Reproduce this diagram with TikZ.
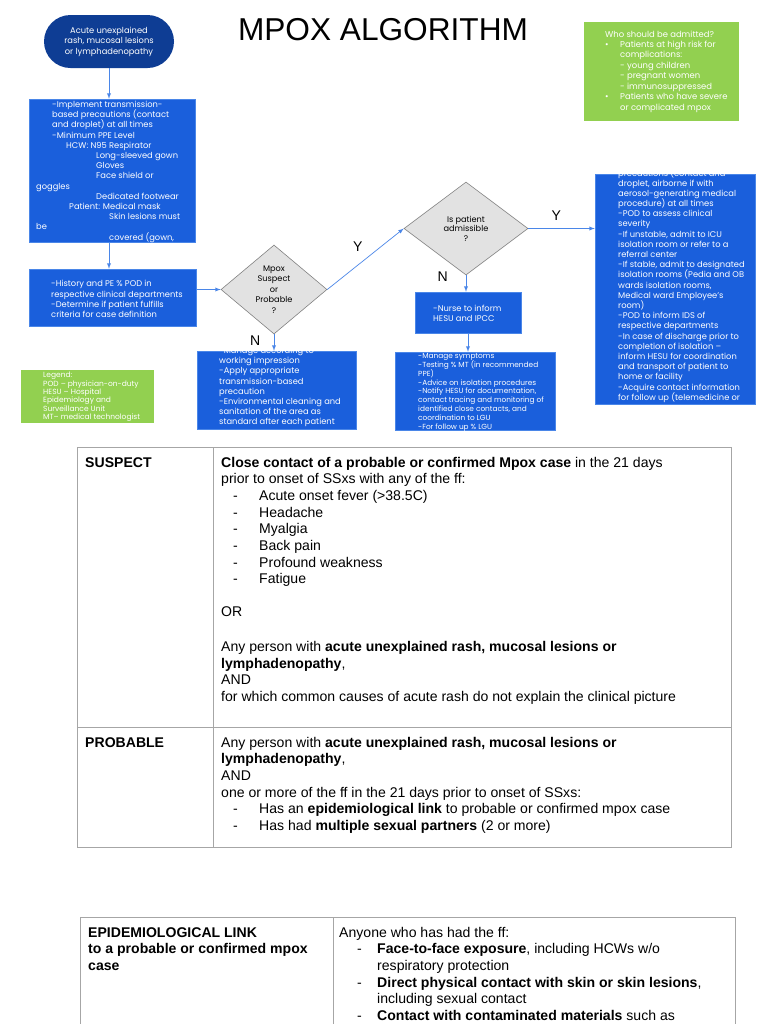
\documentclass[tikz,border=0pt]{standalone}
\usepackage{fontspec}
\setmainfont{Liberation Sans}
\newfontfamily\flowfont{Poppins}
\usetikzlibrary{shapes.geometric,shapes.misc}

\definecolor{flowblue}{HTML}{1A5FDC}
\definecolor{navy}{HTML}{0E3D94}
\definecolor{leafgreen}{HTML}{92D050}
\definecolor{arrowblue}{HTML}{4A86E8}
\definecolor{diagray}{HTML}{E2E2E2}
\definecolor{rulegray}{HTML}{A6A6A6}

% one pixel of the page
\newlength{\pxl}\setlength{\pxl}{0.03cm}
\newcommand{\dashitem}[2][12]{\hspace*{#1\pxl}\makebox[\dimexpr 38\pxl-#1\pxl\relax][l]{-}#2}
\newcommand{\blt}{\makebox[15\pxl][l]{\textbullet}}
\newcommand{\ind}{\hspace*{15\pxl}}

\tikzset{
  flow/.style={font=\flowfont\fontsize{7.1}{8.7}\selectfont, text=white, align=left, inner sep=0pt},
  tiny/.style={flow, font=\flowfont\fontsize{6.3}{7.6}\selectfont},
  box/.style 2 args={inner sep=0pt, minimum width=#1*0.03cm, minimum height=#2*0.03cm},
  bluebox/.style 2 args={box={#1}{#2}, fill=flowblue, draw=arrowblue, line width=0.4pt},
  greenbox/.style 2 args={box={#1}{#2}, fill=leafgreen},
  decision/.style 2 args={diamond, box={#1}{#2}, fill=diagray, draw=gray, line width=0.5pt,
    font=\flowfont\fontsize{7}{9}\selectfont, align=center},
  link/.style={->, arrowblue, line width=0.6pt},
  yn/.style={text=black, font=\fontsize{12}{14}\selectfont},
  tabrule/.style={rulegray, line width=0.6pt},
  cell/.style={anchor=north west, inner sep=0pt, align=left, font=\fontsize{12}{14.2}\selectfont}
}

\begin{document}
\begin{tikzpicture}[x=0.03cm, y=-0.03cm, >=latex]
  \fill[white] (0,0) rectangle (768,1024);
  \useasboundingbox (0,0) rectangle (768,1024);

  % title
  \node[font=\fontsize{27}{30}\selectfont] (title) at (383,30) {MPOX ALGORITHM};

  % flow boxes
  \node[rounded rectangle, box={130}{53}, fill=navy, text=white, font=\flowfont\fontsize{7.1}{9}\selectfont, align=center]
    (start) at (109,41.5) {Acute unexplained\\rash, mucosal lesions\\or lymphadenopathy};
  \node[bluebox={166}{143}] (prep) at (112,170.5) {};
  \node[bluebox={167}{57}] (hist) at (112.5,297.5) {};
  \node[decision={106}{89}] (suspect) at (274,289.5) {Mpox\\Suspect\\or\\Probable\\?};
  \node[bluebox={159}{78}] (manage) at (276.5,390) {};
  \node[decision={124}{93}, font=\flowfont\fontsize{7}{8.1}\selectfont] (admissible) at (466,228.5) {Is patient\\admissible\\?};
  \node[bluebox={106}{41}] (nurse) at (468,312.5) {};
  \node[bluebox={160}{78}] (isolate) at (475,391) {};
  \node[bluebox={160}{230}] (admit) at (675,289) {};
  % green notes
  \node[greenbox={155}{99}] (who) at (661.5,71.5) {};
  \node[greenbox={133}{53}] (legend) at (87.5,396.5) {};

  % box texts
  \begin{scope}
    \clip (prep.south west) rectangle (prep.north east);
    \node[flow, anchor=north west] (preptext) at (36,101) {%
      \hspace*{16\pxl}-Implement transmission-\\
      \hspace*{16\pxl}based precautions (contact\\
      \hspace*{16\pxl}and droplet) at all times\\
      \hspace*{16\pxl}-Minimum PPE Level\\
      \hspace*{30\pxl}HCW: N95 Respirator\\
      \hspace*{60\pxl}Long-sleeved gown\\
      \hspace*{60\pxl}Gloves\\
      \hspace*{60\pxl}Face shield or\\
      goggles\\
      \hspace*{60\pxl}Dedicated footwear\\
      \hspace*{33\pxl}Patient: Medical mask\\
      \hspace*{73\pxl}Skin lesions must\\
      be\\
      \hspace*{73\pxl}covered (gown,};
  \end{scope}
  \node[flow, anchor=west] (histtext) at (51,299) {-History and PE \% POD in\\respective clinical departments\\-Determine if patient fulfills\\criteria for case definition};
  \begin{scope}
    \clip (manage.south west) rectangle (manage.north east);
    \node[flow, anchor=north west] (managetext) at (219,347) {-Manage according to\\working impression\\-Apply appropriate\\transmission-based\\precaution\\-Environmental cleaning and\\sanitation of the area as\\standard after each patient};
  \end{scope}
  \node[flow, anchor=west] (nursetext) at (433,313) {-Nurse to inform\\HESU and IPCC};
  \begin{scope}
    \clip (isolate.south west) rectangle (isolate.north east);
    \node[tiny, anchor=north west] (isolatetext) at (418,353) {-Manage symptoms\\-Testing \% MT (in recommended\\PPE)\\-Advice on isolation procedures\\-Notify HESU for documentation,\\contact tracing and monitoring of\\identified close contacts, and\\coordination to LGU\\-For follow up \% LGU};
  \end{scope}
  \begin{scope}
    \clip (admit.south west) rectangle (admit.north east);
    \node[flow, anchor=north west] (admittext) at (618,168) {precautions (contact and\\droplet, airborne if with\\aerosol-generating medical\\procedure) at all times\\-POD to assess clinical\\severity\\-If unstable, admit to ICU\\isolation room or refer to a\\referral center\\-If stable, admit to designated\\isolation rooms (Pedia and OB\\wards isolation rooms,\\Medical ward Employee’s\\room)\\-POD to inform IDS of\\respective departments\\-In case of discharge prior to\\completion of isolation –\\inform HESU for coordination\\and transport of patient to\\home or facility\\-Acquire contact information\\for follow up (telemedicine or};
  \end{scope}
  \node[flow, font=\flowfont\fontsize{7.2}{8.9}\selectfont, anchor=west] (whotext) at (605,71.5) {Who should be admitted?\\\blt Patients at high risk for\\\ind complications:\\\ind - young children\\\ind - pregnant women\\\ind - immunosuppressed\\\blt Patients who have severe\\\ind or complicated mpox};
  \node[flow, font=\flowfont\fontsize{6.4}{7.2}\selectfont, anchor=west] (legendtext) at (43,397) {Legend:\\POD – physician-on-duty\\HESU – Hospital\\Epidemiology and\\Surveillance Unit\\MT– medical technologist};

  % arrows
  \draw[link] (start.south) -- (start.south |- prep.north);
  \draw[link] (start.south |- prep.south) -- (start.south |- hist.north);
  \draw[link] (hist.east |- suspect.west) -- (suspect.west);
  \draw[link] (suspect.east) -- node[yn, pos=0.4, above=8pt] (y1) {Y} (admissible.west);
  \draw[link] (suspect.south) -- node[yn, pos=0.4, left=8pt] (n1) {N} (suspect.south |- manage.north);
  \draw[link] (admissible.east) -- node[yn, pos=0.42, above=3pt] (y2) {Y} (admissible.east -| admit.west);
  \draw[link] (admissible.south) -- node[yn, pos=0.1, left=12pt] (n2) {N} (admissible.south |- nurse.north);
  \draw[link] (nurse.south) -- (nurse.south |- isolate.north);

  % case definition table
  \draw[tabrule] (77,447) rectangle (731,847);
  \draw[tabrule] (213,447) -- (213,847);
  \draw[tabrule] (77,727) -- (731,727);
  \node[cell] (suspectcell) at (85,455.3) {\strut\textbf{SUSPECT}};
  \node[cell] (suspectdef) at (221,455.3) {\strut\textbf{Close contact of a probable or confirmed Mpox case} in the 21 days\\
    prior to onset of SSxs with any of the ff:\\
    \dashitem{Acute onset fever (>38.5C)}\\
    \dashitem{Headache}\\
    \dashitem{Myalgia}\\
    \dashitem{Back pain}\\
    \dashitem{Profound weakness}\\
    \dashitem{Fatigue}\\[14.2pt]
    OR\\[15.5pt]
    Any person with \textbf{acute unexplained rash, mucosal lesions or}\\
    \textbf{lymphadenopathy},\\
    AND\\
    for which common causes of acute rash do not explain the clinical picture};
  \node[cell] (probablecell) at (85,735.3) {\strut\textbf{PROBABLE}};
  \node[cell] (probabledef) at (221,735.3) {\strut Any person with \textbf{acute unexplained rash, mucosal lesions or}\\
    \textbf{lymphadenopathy},\\
    AND\\
    one or more of the ff in the 21 days prior to onset of SSxs:\\
    \dashitem{Has an \textbf{epidemiological link} to probable or confirmed mpox case}\\
    \dashitem{Has had \textbf{multiple sexual partners} (2 or more)}};

  % epidemiological link table
  \draw[tabrule] (80,1040) |- (735,917) -- (735,1040);
  \draw[tabrule] (333,917) -- (333,1040);
  \node[cell] (linkcell) at (88,925.3) {\strut\textbf{EPIDEMIOLOGICAL LINK}\\\textbf{to a probable or confirmed mpox}\\\textbf{case}};
  \node[cell] (linkdef) at (339,925.3) {\strut Anyone who has had the ff:\\
    \dashitem[18]{\textbf{Face-to-face exposure}, including HCWs w/o}\\
    \hspace*{38\pxl}respiratory protection\\
    \dashitem[18]{\textbf{Direct physical contact with skin or skin lesions},}\\
    \hspace*{38\pxl}including sexual contact\\
    \dashitem[18]{\textbf{Contact with contaminated materials} such as}};
\end{tikzpicture}
\end{document}
